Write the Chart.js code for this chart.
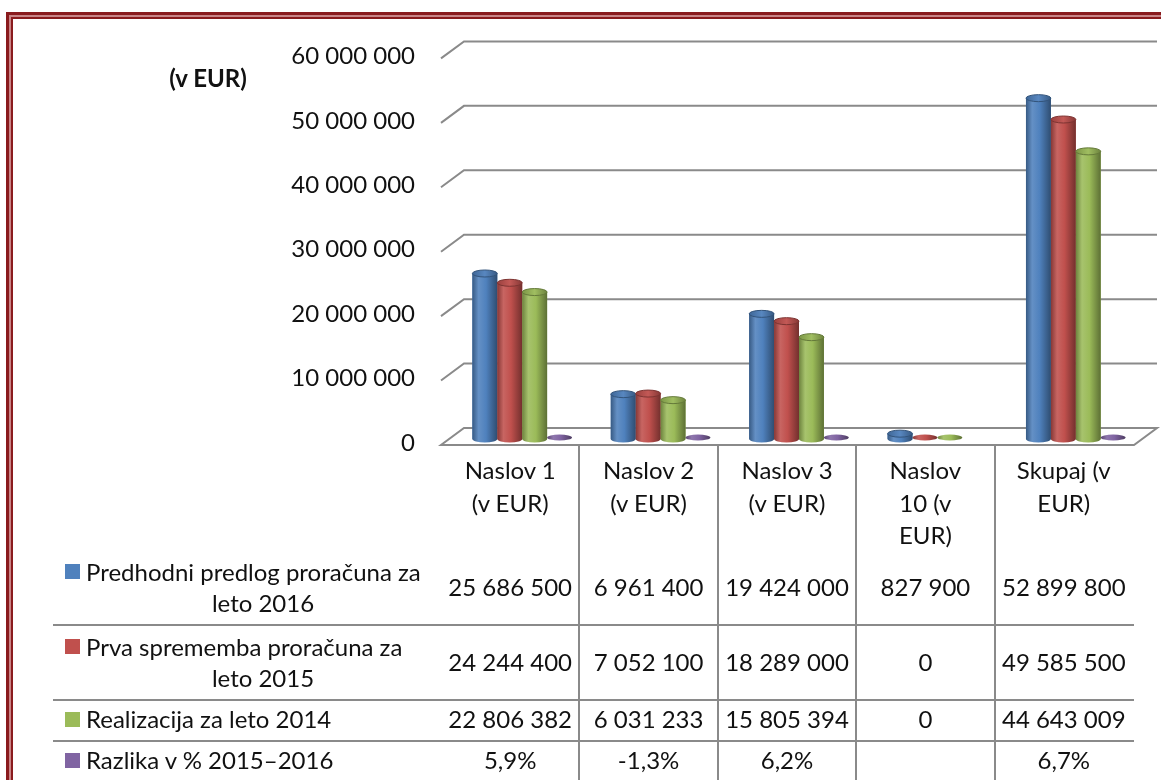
<!DOCTYPE html>
<html>
<head>
<meta charset="utf-8">
<script src="https://cdn.jsdelivr.net/npm/chart.js@4.4.1/dist/chart.umd.min.js"></script>
<style>
html,body{margin:0;padding:0;background:#fff;overflow:hidden;}
#wrap{position:relative;width:1161px;height:780px;overflow:hidden;font-family:Lato,'Open Sans',sans-serif;color:#111;}
#frame{position:absolute;left:6px;top:12px;width:1240px;height:900px;border:3px solid #8a1b1e;box-shadow:inset 0 0 0 2px #c98587,inset 0 0 0 4px #8a1b1e;}
#chart{position:absolute;left:0;top:0;}
.t{position:absolute;white-space:nowrap;font-size:24px;line-height:30px;}
.key{position:absolute;width:15px;height:15px;}
</style>
</head>
<body>
<div id="wrap">
  <div id="frame"></div>
  <canvas id="chart" width="1161" height="780"></canvas>
</div>
<script>
// ── data ─────────────────────────────
const categories=[['Naslov 1','(v EUR)'],['Naslov 2','(v EUR)'],['Naslov 3','(v EUR)'],['Naslov','10 (v','EUR)'],['Skupaj (v','EUR)']];
const seriesNames=[['Predhodni predlog proračuna za','leto 2016'],['Prva sprememba proračuna za','leto 2015'],['Realizacija za leto 2014'],['Razlika v % 2015–2016']];
const predlog2016=[25686500,6961400,19424000,827900,52899800];
const sprememba2015=[24244400,7052100,18289000,0,49585500];
const realizacija2014=[22806382,6031233,15805394,0,44643009];
const razlikaPct=[5.9,-1.3,6.2,null,6.7];
const seriesColors=['#4f81bd','#c0504d','#9bbb59','#8064a2'];
const yTicks=[0,10000000,20000000,30000000,40000000,50000000,60000000];
const unitLabel='(v EUR)';

const fmtNum=v=>String(v).replace(/\B(?=(\d{3})+(?!\d))/g,' ');
const fmtPct=v=>v==null?'':v.toFixed(1).replace('.',',')+'%';

// depth of the 3D floor
const DX=23,BACK=11,FRONT=6,SHIFT=12;

function shade(hex,p){
  const n=parseInt(hex.slice(1),16);let r=n>>16,g=(n>>8)&255,b=n&255;
  const t=p<0?0:255,a=Math.abs(p);
  r=Math.round(r+(t-r)*a);g=Math.round(g+(t-g)*a);b=Math.round(b+(t-b)*a);
  return `rgb(${r},${g},${b})`;
}

function cylinder(ctx,x,top,base,w,col){
  const rx=w/2,l=x-rx,r=x+rx;
  const g=ctx.createLinearGradient(l,0,r,0);
  g.addColorStop(0,shade(col,-0.3));g.addColorStop(0.25,shade(col,0.12));
  g.addColorStop(0.55,col);g.addColorStop(1,shade(col,-0.4));
  ctx.fillStyle=g;
  if(base-top<3){ // flat disk
    ctx.beginPath();ctx.ellipse(x,base-1.5,rx,3,0,0,Math.PI*2);ctx.fill();
    return;
  }
  const ry=3.5;
  ctx.beginPath();ctx.moveTo(l,top);ctx.lineTo(l,base);
  ctx.ellipse(x,base,rx,ry,0,Math.PI,0,true);ctx.lineTo(r,top);ctx.closePath();ctx.fill();
  const g2=ctx.createLinearGradient(l,0,r,0);
  g2.addColorStop(0,shade(col,-0.2));g2.addColorStop(0.5,shade(col,0.05));g2.addColorStop(1,shade(col,-0.3));
  ctx.fillStyle=g2;ctx.strokeStyle=shade(col,-0.35);ctx.lineWidth=1;
  ctx.beginPath();ctx.ellipse(x,top,rx,ry,0,0,Math.PI*2);ctx.fill();ctx.stroke();
}

const threeD={
  id:'threeD',
  beforeDatasetsDraw(chart){
    const ctx=chart.ctx,a=chart.chartArea,ys=chart.scales.y,xs=chart.scales.x;
    const fx=a.left-SHIFT,bx=fx+DX,rb=a.right+SHIFT,rf=rb-DX;
    const y0=ys.getPixelForValue(0);
    ctx.save();
    ctx.strokeStyle='#8a8a8a';ctx.lineWidth=2;ctx.lineJoin='miter';
    // floor
    ctx.beginPath();ctx.moveTo(bx,y0-BACK);ctx.lineTo(rb,y0-BACK);ctx.lineTo(rf,y0+FRONT);ctx.lineTo(fx,y0+FRONT);ctx.closePath();
    ctx.fillStyle='#fff';ctx.fill();ctx.stroke();
    // grid
    yTicks.forEach(v=>{
      if(v===0)return;
      const y=ys.getPixelForValue(v);
      ctx.beginPath();ctx.moveTo(fx,y+FRONT);ctx.lineTo(bx,y-BACK);ctx.lineTo(rb,y-BACK);ctx.stroke();
    });
    // data table lines
    for(let i=0;i<categories.length-1;i++){
      const x=Math.round((xs.getPixelForValue(i)+xs.getPixelForValue(i+1))/2-SHIFT);
      ctx.beginPath();ctx.moveTo(x,y0+FRONT);ctx.lineTo(x,chart.height);ctx.stroke();
    }
    [625,700,741].forEach(y=>{ctx.beginPath();ctx.moveTo(53,y);ctx.lineTo(rf,y);ctx.stroke();});
    ctx.restore();
  },
  afterDatasetsDraw(chart){
    const ctx=chart.ctx;
    ctx.save();
    chart.data.datasets.forEach((ds,di)=>{
      chart.getDatasetMeta(di).data.forEach((el,i)=>{
        if(ds.data[i]==null)return;
        const p=el.getProps(['x','y','base','width'],true);
        cylinder(ctx,p.x,Math.min(p.y,p.base),p.base,p.width,seriesColors[di]);
      });
    });
    ctx.restore();
  }
};

const chart=new Chart(document.getElementById('chart'),{
  type:'bar',
  data:{labels:categories,datasets:[
    {label:seriesNames[0].join(' '),data:predlog2016,backgroundColor:seriesColors[0]},
    {label:seriesNames[1].join(' '),data:sprememba2015,backgroundColor:seriesColors[1]},
    {label:seriesNames[2].join(' '),data:realizacija2014,backgroundColor:seriesColors[2]},
    {label:seriesNames[3].join(' '),data:razlikaPct,backgroundColor:seriesColors[3]},
  ]},
  options:{responsive:false,animation:false,
    layout:{padding:{left:0,right:16,top:51,bottom:341}},
    datasets:{bar:{categoryPercentage:0.72,barPercentage:1}},
    plugins:{legend:{display:false},tooltip:{enabled:false}},
    scales:{
      x:{display:false},
      y:{min:0,max:60000000,
        afterBuildTicks:s=>{s.ticks=yTicks.map(v=>({value:v}));},
        afterFit:s=>{s.width=453;},
        grid:{display:false,drawTicks:false},border:{display:false},
        ticks:{padding:38,labelOffset:4,color:'#111',font:{family:'Lato',size:24},callback:v=>fmtNum(v)}}
    }
  },
  plugins:[threeD]
});

// ── data table (HTML text) ─────────────
const wrap=document.getElementById('wrap');
function txt(s,x,y,align,bold){
  const d=document.createElement('div');d.className='t';d.textContent=s;
  d.style.left=x+'px';d.style.top=y+'px';
  d.style.transform=align==='left'?'translate(0,-50%)':'translate(-50%,-50%)';
  if(bold)d.style.fontWeight='700';
  wrap.appendChild(d);
}
txt(unitLabel,208,78,'center',true);
const xs=chart.scales.x;
const colX=categories.map((c,i)=>xs.getPixelForValue(i)-SHIFT);
categories.forEach((lines,i)=>lines.forEach((l,k)=>txt(l,colX[i],470+k*32.5)));
const rowY=[587,662,719,760];
const rowVals=[predlog2016.map(fmtNum),sprememba2015.map(fmtNum),realizacija2014.map(fmtNum),razlikaPct.map(fmtPct)];
seriesNames.forEach((lines,r)=>{
  const y1=lines.length>1?rowY[r]-15.5:rowY[r];
  const k=document.createElement('div');k.className='key';
  k.style.left='65px';k.style.top=(y1-7.5)+'px';k.style.background=seriesColors[r];wrap.appendChild(k);
  txt(lines[0],86,y1,'left');
  if(lines[1])txt(lines[1],263,rowY[r]+15.5);
  rowVals[r].forEach((v,i)=>{if(v!=='')txt(v,colX[i],rowY[r]);});
});
</script>
</body>
</html>
